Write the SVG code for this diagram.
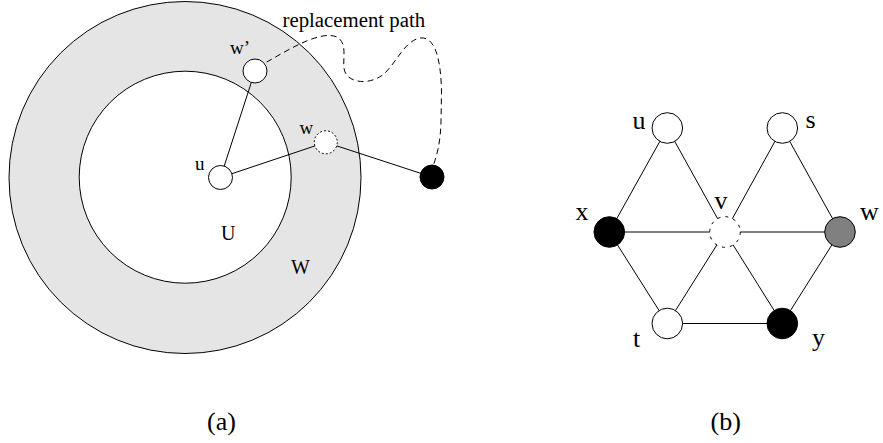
<svg xmlns="http://www.w3.org/2000/svg" width="883" height="443" viewBox="0 0 883 443">
<style>
text{font-family:"Liberation Serif","Times New Roman",serif;fill:#000}
.sm{font-size:19px}
.md{font-size:20px}
.lg{font-size:26px}
.e{stroke:#000;stroke-width:1;fill:none}
.n{stroke:#000;stroke-width:1}
</style>
<rect width="883" height="443" fill="#fff"/>
<g id="regionW">
<circle cx="185" cy="177.5" r="176" fill="#e5e5e5" stroke="#000" stroke-width="1"/>
<text class="md" x="291" y="274">W</text>
</g>
<g id="regionU">
<circle cx="185.2" cy="177.2" r="106" fill="#fff" stroke="#000" stroke-width="1"/>
<text class="md" x="221" y="240">U</text>
</g>
<g id="connectors">
<line class="e" x1="220.5" y1="177.5" x2="255" y2="71"/>
<line class="e" x1="220.5" y1="177.5" x2="325.8" y2="142.3"/>
<line class="e" x1="325.8" y1="142.3" x2="432" y2="177"/>
<path class="e" stroke-dasharray="6,4" d="M266.7,62 C290,49 320,30 337,37 C349,44 341,62 345,72 C350,84 372,85 385,73 C398,60 405,41 420,38 C436,36 441,62 441.5,92 L441,122 C440.5,142 437,155 433.5,165"/>
<line class="e" x1="667.3" y1="128" x2="609.3" y2="232"/>
<line class="e" x1="667.3" y1="128" x2="725" y2="232"/>
<line class="e" x1="782.3" y1="128" x2="725" y2="232"/>
<line class="e" x1="782.3" y1="128" x2="840" y2="232"/>
<line class="e" x1="609.3" y1="232" x2="840" y2="232"/>
<line class="e" x1="609.3" y1="232" x2="667.3" y2="323.5"/>
<line class="e" x1="725" y1="232" x2="667.3" y2="323.5"/>
<line class="e" x1="725" y1="232" x2="782.3" y2="323.5"/>
<line class="e" x1="840" y1="232" x2="782.3" y2="323.5"/>
<line class="e" x1="667.3" y1="323.5" x2="782.3" y2="323.5"/>
</g>
<g id="a-u">
<circle class="n" cx="220.5" cy="177.5" r="12" fill="#fff"/>
<text class="sm" x="195" y="169.5">u</text>
</g>
<g id="a-wprime">
<circle class="n" cx="255" cy="71" r="12" fill="#fff"/>
<text class="sm" x="230" y="53.5">w’</text>
</g>
<g id="a-w">
<circle class="n" cx="325.8" cy="142.3" r="11.5" fill="#fff" stroke-dasharray="2,2"/>
<text class="sm" x="299.5" y="133.5">w</text>
</g>
<g id="a-black">
<circle class="n" cx="432" cy="177" r="12" fill="#000"/>
</g>
<g id="a-label-path">
<text class="md" x="282.5" y="26.7" style="font-size:20.8px">replacement path</text>
</g>
<g id="b-u">
<circle class="n" cx="667.3" cy="128" r="15.3" fill="#fff"/>
<text class="lg" x="632.5" y="128.5">u</text>
</g>
<g id="b-s">
<circle class="n" cx="782.3" cy="128" r="15.3" fill="#fff"/>
<text class="lg" x="805.5" y="128">s</text>
</g>
<g id="b-x">
<circle class="n" cx="609.3" cy="232" r="15.3" fill="#000"/>
<text class="lg" x="575.5" y="220">x</text>
</g>
<g id="b-v">
<circle class="n" cx="725" cy="232" r="15.3" fill="#fff" stroke-dasharray="3,5"/>
<text class="lg" x="714.5" y="208.5">v</text>
</g>
<g id="b-w">
<circle class="n" cx="840" cy="232" r="15.3" fill="#808080"/>
<text class="lg" x="860" y="220">w</text>
</g>
<g id="b-t">
<circle class="n" cx="667.3" cy="323.5" r="15.3" fill="#fff"/>
<text class="lg" x="633" y="346.5">t</text>
</g>
<g id="b-y">
<circle class="n" cx="782.3" cy="323.5" r="15.3" fill="#000"/>
<text class="lg" x="812" y="346">y</text>
</g>
<g id="captions">
<text class="lg" x="207" y="430">(a)</text>
<text class="lg" x="710.5" y="430">(b)</text>
</g>
</svg>
